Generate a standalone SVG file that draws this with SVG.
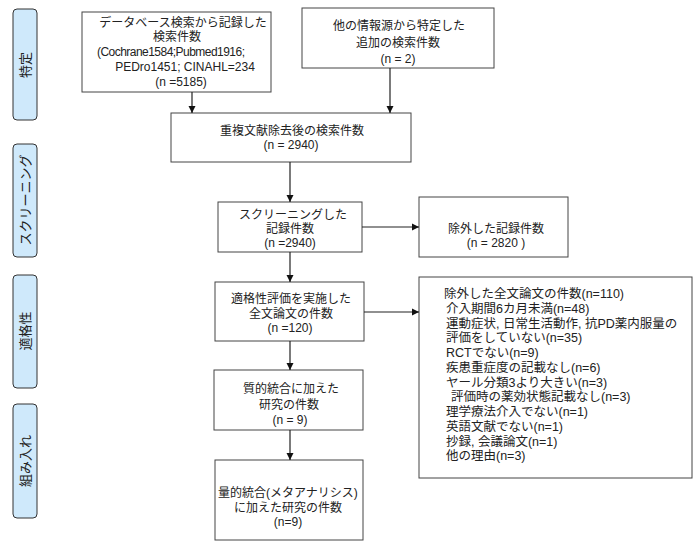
<svg xmlns="http://www.w3.org/2000/svg" width="700" height="553" viewBox="0 0 700 553">
<style>
.box{fill:#fff;stroke:#444;stroke-width:1}
.side{fill:#cfe9fb;stroke:#333;stroke-width:1}
text{font-family:"Liberation Sans","Noto Sans CJK JP",sans-serif;font-size:12px;fill:#222}
.c{text-anchor:middle}
.l{font-size:12.5px}
.s{font-size:13px}
.conn line{stroke:#222;stroke-width:1.2}
</style>
<defs>
<marker id="ah" markerWidth="8" markerHeight="8" refX="7" refY="4" orient="auto" markerUnits="userSpaceOnUse">
<path d="M0,0.5 L7,4 L0,7.5 Z" fill="#111"/>
</marker>
</defs>
<rect width="700" height="553" fill="#fff"/>

<g id="side1"><rect class="side" x="13" y="9" width="24" height="111" rx="4"/><text class="c s" transform="translate(29.5,65) rotate(-90)">特定</text></g>
<g id="side2"><rect class="side" x="13" y="144" width="24" height="113" rx="4"/><text class="c s" transform="translate(29.5,200) rotate(-90)">スクリーニング</text></g>
<g id="side3"><rect class="side" x="13" y="275" width="24" height="113" rx="4"/><text class="c s" transform="translate(29.5,331) rotate(-90)">適格性</text></g>
<g id="side4"><rect class="side" x="13" y="404" width="24" height="114" rx="4"/><text class="c s" transform="translate(29.5,461) rotate(-90)">組み入れ</text></g>

<g id="db">
<rect class="box" x="82" y="12" width="189" height="80"/>
<text class="c" x="183" y="27">データベース検索から記録した</text>
<text class="c" x="177" y="41">検索件数</text>
<text x="97" y="56" textLength="148" lengthAdjust="spacing">(Cochrane1584;Pubmed1916;</text>
<text class="c" x="185" y="71">PEDro1451; CINAHL=234</text>
<text class="c" x="181" y="86">(n =5185)</text>
</g>
<g id="other">
<rect class="box" x="302" y="8" width="192" height="60"/>
<text class="c" x="399" y="30">他の情報源から特定した</text>
<text class="c" x="398" y="47">追加の検索件数</text>
<text class="c" x="398" y="63">(n = 2)</text>
</g>
<g id="dedup">
<rect class="box" x="171" y="113" width="240" height="49"/>
<text class="c" x="292" y="135">重複文献除去後の検索件数</text>
<text class="c" x="291" y="149">(n = 2940)</text>
</g>
<g id="screened">
<rect class="box" x="218" y="202" width="144" height="50"/>
<text class="c" x="293" y="219">スクリーニングした</text>
<text class="c" x="290" y="233">記録件数</text>
<text class="c" x="290" y="247">(n =2940)</text>
</g>
<g id="excluded">
<rect class="box" x="419" y="197" width="149" height="60"/>
<text class="c" x="496" y="233">除外した記録件数</text>
<text class="c" x="496" y="247">(n = 2820 )</text>
</g>
<g id="eligible">
<rect class="box" x="215" y="282" width="149" height="59"/>
<text class="c" x="291" y="303">適格性評価を実施した</text>
<text class="c" x="291" y="318">全文論文の件数</text>
<text class="c" x="290" y="332">(n =120)</text>
</g>
<g id="fulltext-excluded">
<rect class="box" x="419" y="277" width="273" height="201"/>
<text class="l" x="444" y="298">除外した全文論文の件数(n=110)</text>
<text class="l" x="446" y="313">介入期間6カ月未満(n=48)</text>
<text class="l" x="446" y="328">運動症状, 日常生活動作, 抗PD薬内服量の</text>
<text class="l" x="446" y="342">評価をしていない(n=35)</text>
<text class="l" x="446" y="357">RCTでない(n=9)</text>
<text class="l" x="446" y="372">疾患重症度の記載なし(n=6)</text>
<text class="l" x="446" y="387">ヤール分類3より大きい(n=3)</text>
<text class="l" x="451" y="401">評価時の薬効状態記載なし(n=3)</text>
<text class="l" x="446" y="416">理学療法介入でない(n=1)</text>
<text class="l" x="446" y="431">英語文献でない(n=1)</text>
<text class="l" x="446" y="446">抄録, 会議論文(n=1)</text>
<text class="l" x="446" y="460">他の理由(n=3)</text>
</g>
<g id="qualitative">
<rect class="box" x="214" y="370" width="149" height="60"/>
<text class="c" x="291" y="393">質的統合に加えた</text>
<text class="c" x="289" y="409">研究の件数</text>
<text class="c" x="290" y="424">(n = 9)</text>
</g>
<g id="quantitative">
<rect class="box" x="215" y="460" width="148" height="80"/>
<text class="c" x="288" y="497">量的統合(メタアナリシス)</text>
<text class="c" x="288" y="512">に加えた研究の件数</text>
<text class="c" x="288" y="526">(n=9)</text>
</g>

<g class="conn" id="connectors">
<line x1="192" y1="92" x2="192" y2="113" marker-end="url(#ah)"/>
<line x1="390" y1="68" x2="390" y2="113" marker-end="url(#ah)"/>
<line x1="290" y1="162" x2="290" y2="202" marker-end="url(#ah)"/>
<line x1="362" y1="227" x2="419" y2="227" marker-end="url(#ah)"/>
<line x1="290" y1="252" x2="290" y2="282" marker-end="url(#ah)"/>
<line x1="364" y1="312" x2="419" y2="312" marker-end="url(#ah)"/>
<line x1="290" y1="341" x2="290" y2="370" marker-end="url(#ah)"/>
<line x1="290" y1="430" x2="290" y2="460" marker-end="url(#ah)"/>
</g>
</svg>
